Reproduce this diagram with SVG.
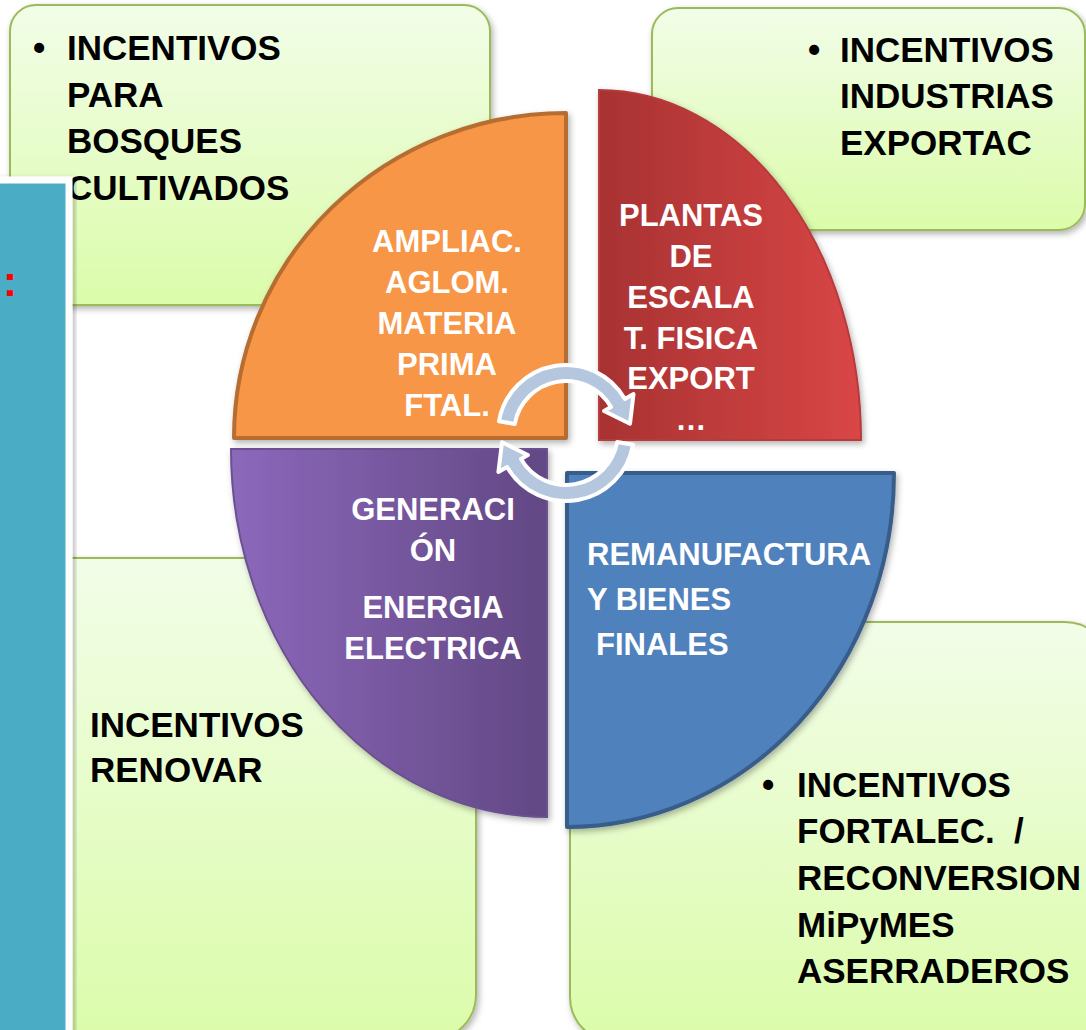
<svg xmlns="http://www.w3.org/2000/svg" width="1086" height="1030" viewBox="0 0 1086 1030">
<defs>
<linearGradient id="gGreen" x1="0" y1="0" x2="0" y2="1">
<stop offset="0" stop-color="#f2fde8"/>
<stop offset="1" stop-color="#dbfcaa"/>
</linearGradient>
<linearGradient id="gRed" x1="0" y1="0" x2="1" y2="0">
<stop offset="0" stop-color="#a83232"/>
<stop offset="1" stop-color="#d94646"/>
</linearGradient>
<linearGradient id="gPurple" x1="0" y1="0" x2="1" y2="0">
<stop offset="0" stop-color="#8c68bb"/>
<stop offset="1" stop-color="#624884"/>
</linearGradient>
<filter id="sh" x="-10%" y="-10%" width="120%" height="120%">
<feDropShadow dx="2" dy="3" stdDeviation="3" flood-color="#000" flood-opacity="0.3"/>
</filter>
</defs>
<style>
.box{fill:url(#gGreen);stroke:#9bbb59;stroke-width:2;filter:url(#sh)}
.bt{font-family:"Liberation Sans",Arial,sans-serif;font-weight:bold;font-size:35px;fill:#000}
.wt{font-family:"Liberation Sans",Arial,sans-serif;font-weight:bold;font-size:31px;fill:#fff;text-anchor:middle}
.wl{font-family:"Liberation Sans",Arial,sans-serif;font-weight:bold;font-size:31px;fill:#fff}
.arr{fill:#b5c6df;stroke:#fff;stroke-width:4;stroke-linejoin:round}
</style>
<rect width="1086" height="1030" fill="#fff"/>

<g id="box-top-left">
<rect class="box" x="10" y="5" width="480" height="300" rx="26"/>
<text class="bt" x="33" y="60">•</text>
<text class="bt" x="67" y="60">INCENTIVOS</text>
<text class="bt" x="67" y="107">PARA</text>
<text class="bt" x="67" y="153">BOSQUES</text>
<text class="bt" x="67" y="200">CULTIVADOS</text>
</g>

<g id="box-top-right">
<rect class="box" x="652" y="8" width="433" height="222" rx="26"/>
<text class="bt" x="808" y="62">•</text>
<text class="bt" x="840" y="62">INCENTIVOS</text>
<text class="bt" x="840" y="108">INDUSTRIAS</text>
<text class="bt" x="840" y="155">EXPORTAC</text>
</g>

<g id="box-bottom-left">
<rect class="box" x="10" y="558" width="466" height="482" rx="45"/>
<text class="bt" x="90" y="737">INCENTIVOS</text>
<text class="bt" x="90" y="782">RENOVAR</text>
</g>

<g id="box-bottom-right">
<rect class="box" x="570" y="622" width="540" height="420" rx="45"/>
<text class="bt" x="762" y="797">•</text>
<text class="bt" x="797" y="797">INCENTIVOS</text>
<text class="bt" x="797" y="843">FORTALEC.&#160; /</text>
<text class="bt" x="797" y="890">RECONVERSION</text>
<text class="bt" x="797" y="937">MiPyMES</text>
<text class="bt" x="797" y="983">ASERRADEROS</text>
</g>

<g id="side-panel">
<rect x="-10" y="180" width="79" height="870" fill="#4bacc6" stroke="#fff" stroke-width="7" filter="url(#sh)"/>
<text x="3" y="296" font-family="Liberation Sans, Arial, sans-serif" font-weight="bold" font-size="42" fill="#ff0000">:</text>
</g>

<g id="q-orange">
<path d="M566,438 L234,438 A332,325 0 0 1 566,113 Z" fill="#f79646" stroke="#b66d31" stroke-width="4" stroke-linejoin="round" filter="url(#sh)"/>
<text class="wt" x="447" y="252">AMPLIAC.</text>
<text class="wt" x="447" y="293">AGLOM.</text>
<text class="wt" x="447" y="334">MATERIA</text>
<text class="wt" x="447" y="375">PRIMA</text>
<text class="wt" x="447" y="416">FTAL.</text>
</g>

<g id="q-red">
<path d="M599,440 L599,90 A262,350 0 0 1 861,440 Z" fill="url(#gRed)" stroke="#b83a3a" stroke-width="2" filter="url(#sh)"/>
<text class="wt" x="691" y="226">PLANTAS</text>
<text class="wt" x="691" y="267">DE</text>
<text class="wt" x="691" y="308">ESCALA</text>
<text class="wt" x="691" y="349">T. FISICA</text>
<text class="wt" x="691" y="389">EXPORT</text>
<text class="wt" x="691" y="430">…</text>
</g>

<g id="q-purple">
<path d="M547,449 L231,449 A316,368 0 0 0 547,817 Z" fill="url(#gPurple)" stroke="#6c5190" stroke-width="2" filter="url(#sh)"/>
<text class="wt" x="433" y="520">GENERACI</text>
<text class="wt" x="433" y="561">ÓN</text>
<text class="wt" x="433" y="618">ENERGIA</text>
<text class="wt" x="433" y="659">ELECTRICA</text>
</g>

<g id="q-blue">
<path d="M567,473 L894,473 A327,354 0 0 1 567,827 Z" fill="#4f81bd" stroke="#385d8a" stroke-width="4" stroke-linejoin="round" filter="url(#sh)"/>
<text class="wl" x="587" y="565">REMANUFACTURA</text>
<text class="wl" x="587" y="610">Y BIENES</text>
<text class="wl" x="596" y="655">FINALES</text>
</g>

<g id="connectors">
<path class="arr" d="M499,421.2 A68,68 0 0 1 624.9,399 L633.5,394 L630,423.8 L604.1,411 L611,407 A52,52 0 0 0 514.8,424 Z"/>
<path class="arr" d="M633,444.8 A68,68 0 0 1 507.1,467 L498.4,472 L502,442.2 L527.9,455 L521,459 A52,52 0 0 0 617.2,442 Z"/>
</g>
</svg>
